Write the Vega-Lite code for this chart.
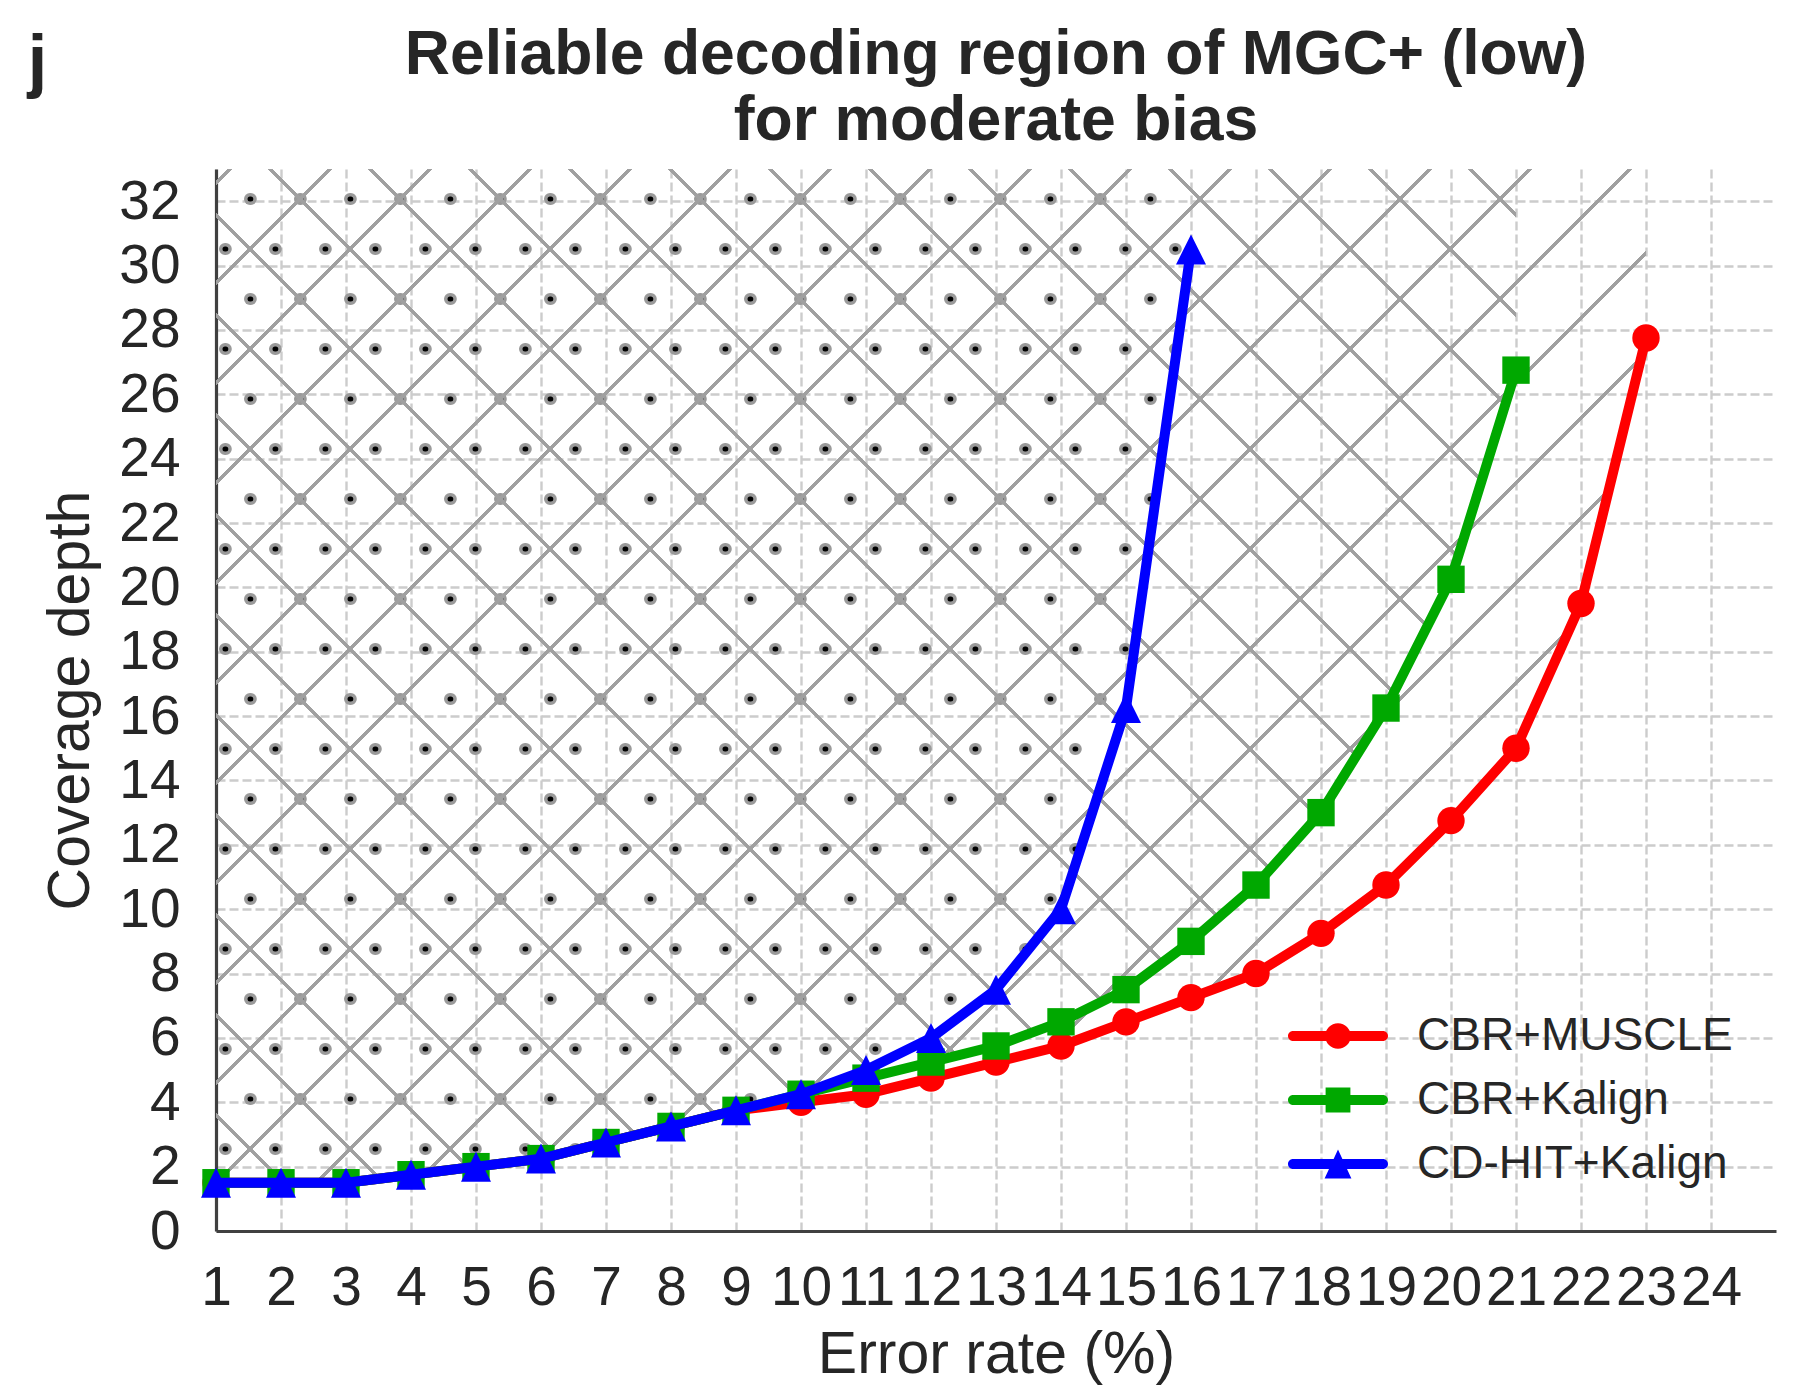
{
  "$schema": "https://vega.github.io/schema/vega-lite/v6.json",
  "width": 1560,
  "height": 1062,
  "autosize": {"type": "none"},
  "padding": {"left": 216, "top": 169, "right": 28, "bottom": 157},
  "background": "white",
  "title": {
    "text": ["Reliable decoding region of MGC+ (low)", "for moderate bias"],
    "fontSize": 62.5,
    "fontWeight": "bold",
    "color": "#262626",
    "font": "Liberation Sans",
    "lineHeight": 66,
    "anchor": "middle",
    "offset": -126
  },
  "config": {
    "font": "Liberation Sans",
    "view": {"stroke": null},
    "axis": {
      "labelFont": "Liberation Sans",
      "titleFont": "Liberation Sans",
      "labelColor": "#262626",
      "titleColor": "#262626",
      "labelFontSize": 55,
      "titleFontSize": 59,
      "titleFontWeight": "normal",
      "ticks": false,
      "domainColor": "#404040",
      "domainWidth": 3.2,
      "gridColor": "#cccccc",
      "gridDash": [9, 4],
      "gridWidth": 2.4
    }
  },
  "datasets": {
    "curves": [
      {"err": 1, "depth": 1.5, "method": "CBR+MUSCLE"},
      {"err": 2, "depth": 1.5, "method": "CBR+MUSCLE"},
      {"err": 3, "depth": 1.5, "method": "CBR+MUSCLE"},
      {"err": 4, "depth": 1.75, "method": "CBR+MUSCLE"},
      {"err": 5, "depth": 2, "method": "CBR+MUSCLE"},
      {"err": 6, "depth": 2.25, "method": "CBR+MUSCLE"},
      {"err": 7, "depth": 2.75, "method": "CBR+MUSCLE"},
      {"err": 8, "depth": 3.25, "method": "CBR+MUSCLE"},
      {"err": 9, "depth": 3.75, "method": "CBR+MUSCLE"},
      {"err": 10, "depth": 4, "method": "CBR+MUSCLE"},
      {"err": 11, "depth": 4.25, "method": "CBR+MUSCLE"},
      {"err": 12, "depth": 4.75, "method": "CBR+MUSCLE"},
      {"err": 13, "depth": 5.25, "method": "CBR+MUSCLE"},
      {"err": 14, "depth": 5.75, "method": "CBR+MUSCLE"},
      {"err": 15, "depth": 6.5, "method": "CBR+MUSCLE"},
      {"err": 16, "depth": 7.25, "method": "CBR+MUSCLE"},
      {"err": 17, "depth": 8, "method": "CBR+MUSCLE"},
      {"err": 18, "depth": 9.25, "method": "CBR+MUSCLE"},
      {"err": 19, "depth": 10.75, "method": "CBR+MUSCLE"},
      {"err": 20, "depth": 12.75, "method": "CBR+MUSCLE"},
      {"err": 21, "depth": 15, "method": "CBR+MUSCLE"},
      {"err": 22, "depth": 19.5, "method": "CBR+MUSCLE"},
      {"err": 23, "depth": 27.75, "method": "CBR+MUSCLE"},
      {"err": 1, "depth": 1.5, "method": "CBR+Kalign"},
      {"err": 2, "depth": 1.5, "method": "CBR+Kalign"},
      {"err": 3, "depth": 1.5, "method": "CBR+Kalign"},
      {"err": 4, "depth": 1.75, "method": "CBR+Kalign"},
      {"err": 5, "depth": 2, "method": "CBR+Kalign"},
      {"err": 6, "depth": 2.25, "method": "CBR+Kalign"},
      {"err": 7, "depth": 2.75, "method": "CBR+Kalign"},
      {"err": 8, "depth": 3.25, "method": "CBR+Kalign"},
      {"err": 9, "depth": 3.75, "method": "CBR+Kalign"},
      {"err": 10, "depth": 4.25, "method": "CBR+Kalign"},
      {"err": 11, "depth": 4.75, "method": "CBR+Kalign"},
      {"err": 12, "depth": 5.25, "method": "CBR+Kalign"},
      {"err": 13, "depth": 5.75, "method": "CBR+Kalign"},
      {"err": 14, "depth": 6.5, "method": "CBR+Kalign"},
      {"err": 15, "depth": 7.5, "method": "CBR+Kalign"},
      {"err": 16, "depth": 9, "method": "CBR+Kalign"},
      {"err": 17, "depth": 10.75, "method": "CBR+Kalign"},
      {"err": 18, "depth": 13, "method": "CBR+Kalign"},
      {"err": 19, "depth": 16.25, "method": "CBR+Kalign"},
      {"err": 20, "depth": 20.25, "method": "CBR+Kalign"},
      {"err": 21, "depth": 26.75, "method": "CBR+Kalign"},
      {"err": 1, "depth": 1.5, "method": "CD-HIT+Kalign"},
      {"err": 2, "depth": 1.5, "method": "CD-HIT+Kalign"},
      {"err": 3, "depth": 1.5, "method": "CD-HIT+Kalign"},
      {"err": 4, "depth": 1.75, "method": "CD-HIT+Kalign"},
      {"err": 5, "depth": 2, "method": "CD-HIT+Kalign"},
      {"err": 6, "depth": 2.25, "method": "CD-HIT+Kalign"},
      {"err": 7, "depth": 2.75, "method": "CD-HIT+Kalign"},
      {"err": 8, "depth": 3.25, "method": "CD-HIT+Kalign"},
      {"err": 9, "depth": 3.75, "method": "CD-HIT+Kalign"},
      {"err": 10, "depth": 4.25, "method": "CD-HIT+Kalign"},
      {"err": 11, "depth": 5, "method": "CD-HIT+Kalign"},
      {"err": 12, "depth": 6, "method": "CD-HIT+Kalign"},
      {"err": 13, "depth": 7.5, "method": "CD-HIT+Kalign"},
      {"err": 14, "depth": 10, "method": "CD-HIT+Kalign"},
      {"err": 15, "depth": 16.25, "method": "CD-HIT+Kalign"},
      {"err": 16, "depth": 30.5, "method": "CD-HIT+Kalign"}
    ],
    "dotRows": [
      {"depth": 32.068, "from": 1.5231, "to": 16},
      {"depth": 30.514, "from": 1.1385, "to": 16},
      {"depth": 28.960, "from": 1.5231, "to": 15.89},
      {"depth": 27.407, "from": 1.1385, "to": 15.78},
      {"depth": 25.853, "from": 1.5231, "to": 15.67},
      {"depth": 24.299, "from": 1.1385, "to": 15.56},
      {"depth": 22.746, "from": 1.5231, "to": 15.46},
      {"depth": 21.192, "from": 1.1385, "to": 15.35},
      {"depth": 19.638, "from": 1.5231, "to": 15.24},
      {"depth": 18.085, "from": 1.1385, "to": 15.13},
      {"depth": 16.531, "from": 1.5231, "to": 15.02},
      {"depth": 14.977, "from": 1.1385, "to": 14.80},
      {"depth": 13.424, "from": 1.5231, "to": 14.55},
      {"depth": 11.870, "from": 1.1385, "to": 14.30},
      {"depth": 10.316, "from": 1.5231, "to": 14.05},
      {"depth": 8.763, "from": 1.1385, "to": 13.51},
      {"depth": 7.209, "from": 1.5231, "to": 12.81},
      {"depth": 5.655, "from": 1.1385, "to": 11.66},
      {"depth": 4.102, "from": 1.5231, "to": 9.70},
      {"depth": 2.548, "from": 1.1385, "to": 6.60}
    ]
  },
  "resolve": {"axis": {"y": "independent"}},
  "layer": [
    {
      "data": {"name": "dotRows"},
      "layer": [
        {
          "mark": {"type": "rule", "color": "#9a9a9a", "strokeWidth": 12, "strokeCap": "round", "strokeDash": [0.8, 49.2]},
          "encoding": {
            "x": {"field": "from", "type": "quantitative", "scale": {"domain": [1, 25], "nice": false}, "title": "Error rate (%)"},
            "x2": {"field": "to"},
            "y": {
              "field": "depth", "type": "quantitative", "scale": {"domain": [0, 33], "nice": false, "zero": false},
              "title": "j",
              "axis": {"orient": "right", "labels": false, "ticks": false, "domain": false, "grid": false,
                       "titleAngle": 0, "titleFontSize": 70, "titleFontWeight": "bold", "titleAlign": "center",
                       "titleBaseline": "alphabetic", "titleX": -1739, "titleY": -86}
            }
          }
        },
        {
          "mark": {"type": "rule", "color": "#000000", "strokeWidth": 5, "strokeCap": "round", "strokeDash": [0.8, 49.2]},
          "encoding": {
            "x": {"field": "from", "type": "quantitative", "title": "Error rate (%)"},
            "x2": {"field": "to"},
            "y": {"field": "depth", "type": "quantitative", "title": "j"}
          }
        }
      ]
    },
    {
      "data": {"name": "curves"},
      "layer": [
        {
          "transform": [{"filter": "datum.method === 'CBR+MUSCLE'"}],
          "mark": {"type": "area", "strokeWidth": 0, "fill": {
            "gradient": "linear", "x1": 0, "y1": 0, "x2": 1, "y2": 0.708902,
            "stops": [
              {"offset": 0, "color": "rgba(160,160,160,0)"},
              {"offset": 0.00522, "color": "rgba(160,160,160,0)"}, {"offset": 0.00559, "color": "#a0a0a0"}, {"offset": 0.00745, "color": "#a0a0a0"}, {"offset": 0.00782, "color": "rgba(160,160,160,0)"},
              {"offset": 0.05176, "color": "rgba(160,160,160,0)"}, {"offset": 0.05213, "color": "#a0a0a0"}, {"offset": 0.05399, "color": "#a0a0a0"}, {"offset": 0.05436, "color": "rgba(160,160,160,0)"},
              {"offset": 0.09830, "color": "rgba(160,160,160,0)"}, {"offset": 0.09867, "color": "#a0a0a0"}, {"offset": 0.10053, "color": "#a0a0a0"}, {"offset": 0.10090, "color": "rgba(160,160,160,0)"},
              {"offset": 0.14484, "color": "rgba(160,160,160,0)"}, {"offset": 0.14521, "color": "#a0a0a0"}, {"offset": 0.14707, "color": "#a0a0a0"}, {"offset": 0.14744, "color": "rgba(160,160,160,0)"},
              {"offset": 0.19138, "color": "rgba(160,160,160,0)"}, {"offset": 0.19175, "color": "#a0a0a0"}, {"offset": 0.19361, "color": "#a0a0a0"}, {"offset": 0.19398, "color": "rgba(160,160,160,0)"},
              {"offset": 0.23792, "color": "rgba(160,160,160,0)"}, {"offset": 0.23829, "color": "#a0a0a0"}, {"offset": 0.24015, "color": "#a0a0a0"}, {"offset": 0.24052, "color": "rgba(160,160,160,0)"},
              {"offset": 0.28446, "color": "rgba(160,160,160,0)"}, {"offset": 0.28483, "color": "#a0a0a0"}, {"offset": 0.28669, "color": "#a0a0a0"}, {"offset": 0.28706, "color": "rgba(160,160,160,0)"},
              {"offset": 0.33100, "color": "rgba(160,160,160,0)"}, {"offset": 0.33137, "color": "#a0a0a0"}, {"offset": 0.33323, "color": "#a0a0a0"}, {"offset": 0.33360, "color": "rgba(160,160,160,0)"},
              {"offset": 0.37755, "color": "rgba(160,160,160,0)"}, {"offset": 0.37792, "color": "#a0a0a0"}, {"offset": 0.37978, "color": "#a0a0a0"}, {"offset": 0.38015, "color": "rgba(160,160,160,0)"},
              {"offset": 0.42409, "color": "rgba(160,160,160,0)"}, {"offset": 0.42446, "color": "#a0a0a0"}, {"offset": 0.42632, "color": "#a0a0a0"}, {"offset": 0.42669, "color": "rgba(160,160,160,0)"},
              {"offset": 0.47063, "color": "rgba(160,160,160,0)"}, {"offset": 0.47100, "color": "#a0a0a0"}, {"offset": 0.47286, "color": "#a0a0a0"}, {"offset": 0.47323, "color": "rgba(160,160,160,0)"},
              {"offset": 0.51717, "color": "rgba(160,160,160,0)"}, {"offset": 0.51754, "color": "#a0a0a0"}, {"offset": 0.51940, "color": "#a0a0a0"}, {"offset": 0.51977, "color": "rgba(160,160,160,0)"},
              {"offset": 0.56371, "color": "rgba(160,160,160,0)"}, {"offset": 0.56408, "color": "#a0a0a0"}, {"offset": 0.56594, "color": "#a0a0a0"}, {"offset": 0.56631, "color": "rgba(160,160,160,0)"},
              {"offset": 0.61025, "color": "rgba(160,160,160,0)"}, {"offset": 0.61062, "color": "#a0a0a0"}, {"offset": 0.61248, "color": "#a0a0a0"}, {"offset": 0.61285, "color": "rgba(160,160,160,0)"},
              {"offset": 0.65679, "color": "rgba(160,160,160,0)"}, {"offset": 0.65716, "color": "#a0a0a0"}, {"offset": 0.65902, "color": "#a0a0a0"}, {"offset": 0.65939, "color": "rgba(160,160,160,0)"},
              {"offset": 0.70333, "color": "rgba(160,160,160,0)"}, {"offset": 0.70370, "color": "#a0a0a0"}, {"offset": 0.70556, "color": "#a0a0a0"}, {"offset": 0.70593, "color": "rgba(160,160,160,0)"},
              {"offset": 0.74987, "color": "rgba(160,160,160,0)"}, {"offset": 0.75024, "color": "#a0a0a0"}, {"offset": 0.75210, "color": "#a0a0a0"}, {"offset": 0.75247, "color": "rgba(160,160,160,0)"},
              {"offset": 0.79641, "color": "rgba(160,160,160,0)"}, {"offset": 0.79678, "color": "#a0a0a0"}, {"offset": 0.79864, "color": "#a0a0a0"}, {"offset": 0.79901, "color": "rgba(160,160,160,0)"},
              {"offset": 0.84296, "color": "rgba(160,160,160,0)"}, {"offset": 0.84333, "color": "#a0a0a0"}, {"offset": 0.84519, "color": "#a0a0a0"}, {"offset": 0.84556, "color": "rgba(160,160,160,0)"},
              {"offset": 0.88950, "color": "rgba(160,160,160,0)"}, {"offset": 0.88987, "color": "#a0a0a0"}, {"offset": 0.89173, "color": "#a0a0a0"}, {"offset": 0.89210, "color": "rgba(160,160,160,0)"},
              {"offset": 1, "color": "rgba(160,160,160,0)"}
            ]}},
          "encoding": {
            "x": {"field": "err", "type": "quantitative", "title": "Error rate (%)",
                  "axis": {"values": [1,2,3,4,5,6,7,8,9,10,11,12,13,14,15,16,17,18,19,20,21,22,23,24], "format": "d", "grid": true, "labelPadding": 30, "titlePadding": 10, "labelOverlap": false, "labelFlush": false}},
            "y": {"field": "depth", "type": "quantitative", "title": "Coverage depth", "stack": null,
                  "axis": {"orient": "left", "values": [0,2,4,6,8,10,12,14,16,18,20,22,24,26,28,30,32], "format": "d", "grid": true, "labelPadding": 36, "titlePadding": 18, "labelOverlap": false, "labelFlush": false}},
            "y2": {"datum": 33}
          }
        },
        {
          "transform": [{"filter": "datum.method === 'CBR+Kalign'"}],
          "mark": {"type": "area", "strokeWidth": 0, "fill": {
            "gradient": "linear", "x1": 0, "y1": 1, "x2": 1.10679, "y2": 0.13693,
            "stops": [
              {"offset": 0, "color": "rgba(160,160,160,0)"},
              {"offset": 0.02806, "color": "rgba(160,160,160,0)"}, {"offset": 0.02841, "color": "#a0a0a0"}, {"offset": 0.03013, "color": "#a0a0a0"}, {"offset": 0.03048, "color": "rgba(160,160,160,0)"},
              {"offset": 0.07128, "color": "rgba(160,160,160,0)"}, {"offset": 0.07163, "color": "#a0a0a0"}, {"offset": 0.07335, "color": "#a0a0a0"}, {"offset": 0.07370, "color": "rgba(160,160,160,0)"},
              {"offset": 0.11450, "color": "rgba(160,160,160,0)"}, {"offset": 0.11485, "color": "#a0a0a0"}, {"offset": 0.11657, "color": "#a0a0a0"}, {"offset": 0.11692, "color": "rgba(160,160,160,0)"},
              {"offset": 0.15772, "color": "rgba(160,160,160,0)"}, {"offset": 0.15807, "color": "#a0a0a0"}, {"offset": 0.15979, "color": "#a0a0a0"}, {"offset": 0.16014, "color": "rgba(160,160,160,0)"},
              {"offset": 0.20094, "color": "rgba(160,160,160,0)"}, {"offset": 0.20129, "color": "#a0a0a0"}, {"offset": 0.20301, "color": "#a0a0a0"}, {"offset": 0.20336, "color": "rgba(160,160,160,0)"},
              {"offset": 0.24416, "color": "rgba(160,160,160,0)"}, {"offset": 0.24451, "color": "#a0a0a0"}, {"offset": 0.24623, "color": "#a0a0a0"}, {"offset": 0.24658, "color": "rgba(160,160,160,0)"},
              {"offset": 0.28738, "color": "rgba(160,160,160,0)"}, {"offset": 0.28773, "color": "#a0a0a0"}, {"offset": 0.28945, "color": "#a0a0a0"}, {"offset": 0.28980, "color": "rgba(160,160,160,0)"},
              {"offset": 0.33061, "color": "rgba(160,160,160,0)"}, {"offset": 0.33096, "color": "#a0a0a0"}, {"offset": 0.33268, "color": "#a0a0a0"}, {"offset": 0.33303, "color": "rgba(160,160,160,0)"},
              {"offset": 0.37383, "color": "rgba(160,160,160,0)"}, {"offset": 0.37418, "color": "#a0a0a0"}, {"offset": 0.37590, "color": "#a0a0a0"}, {"offset": 0.37625, "color": "rgba(160,160,160,0)"},
              {"offset": 0.41705, "color": "rgba(160,160,160,0)"}, {"offset": 0.41740, "color": "#a0a0a0"}, {"offset": 0.41912, "color": "#a0a0a0"}, {"offset": 0.41947, "color": "rgba(160,160,160,0)"},
              {"offset": 0.46027, "color": "rgba(160,160,160,0)"}, {"offset": 0.46062, "color": "#a0a0a0"}, {"offset": 0.46234, "color": "#a0a0a0"}, {"offset": 0.46269, "color": "rgba(160,160,160,0)"},
              {"offset": 0.50349, "color": "rgba(160,160,160,0)"}, {"offset": 0.50384, "color": "#a0a0a0"}, {"offset": 0.50556, "color": "#a0a0a0"}, {"offset": 0.50591, "color": "rgba(160,160,160,0)"},
              {"offset": 0.54671, "color": "rgba(160,160,160,0)"}, {"offset": 0.54706, "color": "#a0a0a0"}, {"offset": 0.54878, "color": "#a0a0a0"}, {"offset": 0.54913, "color": "rgba(160,160,160,0)"},
              {"offset": 0.58993, "color": "rgba(160,160,160,0)"}, {"offset": 0.59028, "color": "#a0a0a0"}, {"offset": 0.59200, "color": "#a0a0a0"}, {"offset": 0.59235, "color": "rgba(160,160,160,0)"},
              {"offset": 0.63315, "color": "rgba(160,160,160,0)"}, {"offset": 0.63350, "color": "#a0a0a0"}, {"offset": 0.63522, "color": "#a0a0a0"}, {"offset": 0.63557, "color": "rgba(160,160,160,0)"},
              {"offset": 0.67637, "color": "rgba(160,160,160,0)"}, {"offset": 0.67672, "color": "#a0a0a0"}, {"offset": 0.67844, "color": "#a0a0a0"}, {"offset": 0.67879, "color": "rgba(160,160,160,0)"},
              {"offset": 0.71959, "color": "rgba(160,160,160,0)"}, {"offset": 0.71994, "color": "#a0a0a0"}, {"offset": 0.72166, "color": "#a0a0a0"}, {"offset": 0.72201, "color": "rgba(160,160,160,0)"},
              {"offset": 0.76281, "color": "rgba(160,160,160,0)"}, {"offset": 0.76316, "color": "#a0a0a0"}, {"offset": 0.76488, "color": "#a0a0a0"}, {"offset": 0.76523, "color": "rgba(160,160,160,0)"},
              {"offset": 0.80603, "color": "rgba(160,160,160,0)"}, {"offset": 0.80638, "color": "#a0a0a0"}, {"offset": 0.80810, "color": "#a0a0a0"}, {"offset": 0.80845, "color": "rgba(160,160,160,0)"},
              {"offset": 0.84925, "color": "rgba(160,160,160,0)"}, {"offset": 0.84960, "color": "#a0a0a0"}, {"offset": 0.85132, "color": "#a0a0a0"}, {"offset": 0.85167, "color": "rgba(160,160,160,0)"},
              {"offset": 0.89247, "color": "rgba(160,160,160,0)"}, {"offset": 0.89282, "color": "#a0a0a0"}, {"offset": 0.89454, "color": "#a0a0a0"}, {"offset": 0.89489, "color": "rgba(160,160,160,0)"},
              {"offset": 0.93569, "color": "rgba(160,160,160,0)"}, {"offset": 0.93604, "color": "#a0a0a0"}, {"offset": 0.93776, "color": "#a0a0a0"}, {"offset": 0.93811, "color": "rgba(160,160,160,0)"},
              {"offset": 0.97891, "color": "rgba(160,160,160,0)"}, {"offset": 0.97926, "color": "#a0a0a0"}, {"offset": 0.98098, "color": "#a0a0a0"}, {"offset": 0.98133, "color": "rgba(160,160,160,0)"},
              {"offset": 1, "color": "rgba(160,160,160,0)"}
            ]}},
          "encoding": {
            "x": {"field": "err", "type": "quantitative", "title": "Error rate (%)"},
            "y": {"field": "depth", "type": "quantitative", "title": "Coverage depth", "stack": null},
            "y2": {"datum": 33}
          }
        },
        {
          "transform": [{"filter": "datum.method === 'CBR+MUSCLE'"}],
          "mark": {"type": "line", "strokeWidth": 10, "strokeJoin": "round"},
          "encoding": {
            "x": {"field": "err", "type": "quantitative", "title": "Error rate (%)"},
            "y": {"field": "depth", "type": "quantitative", "title": "Coverage depth"},
            "color": {"field": "method", "type": "nominal",
                      "scale": {"domain": ["CBR+MUSCLE", "CBR+Kalign", "CD-HIT+Kalign"], "range": ["#ff0000", "#00a800", "#0000ff"]}}
          }
        },
        {
          "transform": [{"filter": "datum.method === 'CBR+MUSCLE'"}],
          "mark": {"type": "point", "shape": "circle", "filled": true, "size": 750, "opacity": 1, "strokeWidth": 0},
          "encoding": {
            "x": {"field": "err", "type": "quantitative", "title": "Error rate (%)"},
            "y": {"field": "depth", "type": "quantitative", "title": "Coverage depth"},
            "color": {"field": "method", "type": "nominal",
                      "legend": {
                        "title": null, "orient": "none", "legendX": 1099, "legendY": 844, "padding": 0,
                        "labelFontSize": 46, "labelColor": "#262626", "labelFont": "Liberation Sans", "labelOffset": 56, "labelLimit": 0,
                        "symbolSize": 1600, "symbolStrokeWidth": 0, "symbolOpacity": 1, "rowPadding": 18,
                        "symbolType": {"expr": "datum.value === 'CBR+MUSCLE' ? 'M-2.25,-0.25H2.25A0.25,0.25 0 0 1 2.25,0.25H-2.25A0.25,0.25 0 0 1 -2.25,-0.25ZM0.64,0A0.64,0.64 0 1 1 -0.64,0A0.64,0.64 0 1 1 0.64,0Z' : datum.value === 'CBR+Kalign' ? 'M-2.25,-0.25H2.25A0.25,0.25 0 0 1 2.25,0.25H-2.25A0.25,0.25 0 0 1 -2.25,-0.25ZM-0.62,-0.62H0.62V0.62H-0.62Z' : 'M-2.25,-0.25H2.25A0.25,0.25 0 0 1 2.25,0.25H-2.25A0.25,0.25 0 0 1 -2.25,-0.25ZM0,-0.72L0.67,0.72H-0.67Z'"}
                      }}
          }
        },
        {
          "transform": [{"filter": "datum.method === 'CBR+Kalign'"}],
          "mark": {"type": "line", "strokeWidth": 10, "strokeJoin": "round"},
          "encoding": {
            "x": {"field": "err", "type": "quantitative", "title": "Error rate (%)"},
            "y": {"field": "depth", "type": "quantitative", "title": "Coverage depth"},
            "color": {"field": "method", "type": "nominal"}
          }
        },
        {
          "transform": [{"filter": "datum.method === 'CBR+Kalign'"}],
          "mark": {"type": "point", "shape": "square", "filled": true, "size": 750, "opacity": 1, "strokeWidth": 0},
          "encoding": {
            "x": {"field": "err", "type": "quantitative", "title": "Error rate (%)"},
            "y": {"field": "depth", "type": "quantitative", "title": "Coverage depth"},
            "color": {"field": "method", "type": "nominal"}
          }
        },
        {
          "transform": [{"filter": "datum.method === 'CD-HIT+Kalign'"}],
          "mark": {"type": "line", "strokeWidth": 10, "strokeJoin": "round"},
          "encoding": {
            "x": {"field": "err", "type": "quantitative", "title": "Error rate (%)"},
            "y": {"field": "depth", "type": "quantitative", "title": "Coverage depth"},
            "color": {"field": "method", "type": "nominal"}
          }
        },
        {
          "transform": [{"filter": "datum.method === 'CD-HIT+Kalign'"}],
          "mark": {"type": "point", "shape": "M0,-1L1,1L-1,1Z", "filled": true, "size": 900, "opacity": 1, "strokeWidth": 0},
          "encoding": {
            "x": {"field": "err", "type": "quantitative", "title": "Error rate (%)"},
            "y": {"field": "depth", "type": "quantitative", "title": "Coverage depth"},
            "color": {"field": "method", "type": "nominal"}
          }
        }
      ]
    }
  ]
}
